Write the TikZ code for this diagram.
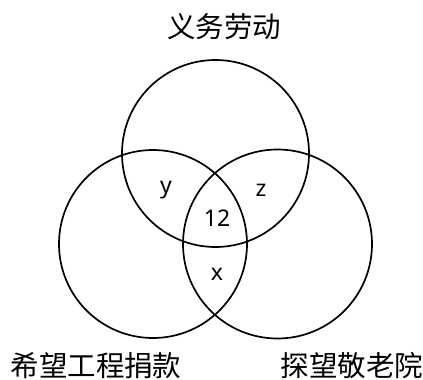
\documentclass[tikz,border=0pt]{standalone}
\usepackage{fontspec}
\setmainfont{Noto Sans}
\newfontfamily\cjk{Noto Sans CJK SC}
\begin{document}
\begin{tikzpicture}[x=1pt,y=-1pt,
  venn/.style={draw=black,line width=1.7pt},
  setlabel/.style={font=\cjk\fontsize{28.5}{30}\selectfont,inner sep=0pt},
  numlabel/.style={font=\fontsize{23}{25}\selectfont,inner sep=0pt}]
\useasboundingbox (0,0) rectangle (423,380);
\draw[venn] (215.5,153.5) circle (93.5);
\draw[venn] (153,244) circle (94);
\draw[venn] (277.5,244) circle (94.5);
\node[setlabel] (A) at (224,27) {义务劳动};
\node[setlabel] (B) at (96,366) {希望工程捐款};
\node[setlabel] (C) at (352,366) {探望敬老院};
\node[numlabel] (ny) at (166,190) {y};
\node[numlabel] (nz) at (261,190) {z};
\node[numlabel] (n12) at (217,218) {12};
\node[numlabel] (nx) at (217,274) {x};
\end{tikzpicture}
\end{document}
